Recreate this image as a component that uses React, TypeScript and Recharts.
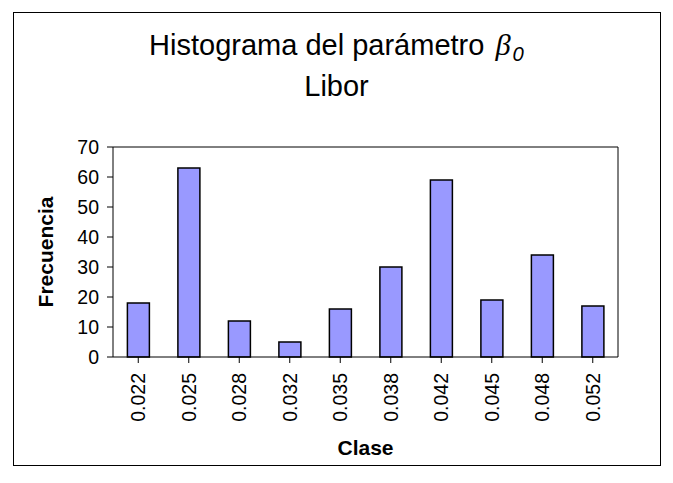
import React from 'react';
import { BarChart, Bar, XAxis, YAxis, ReferenceLine } from 'recharts';

const clases = ['0.022', '0.025', '0.028', '0.032', '0.035', '0.038', '0.042', '0.045', '0.048', '0.052'];
const frecuencias = [18, 63, 12, 5, 16, 30, 59, 19, 34, 17];
const yTicks = [0, 10, 20, 30, 40, 50, 60, 70];

const data = clases.map((c, i) => ({ clase: c, frecuencia: frecuencias[i] }));

const FONT = '"Liberation Sans", Arial, sans-serif';

const YTitle = (props: any) => {
  const vb = props.viewBox || { x: 0, y: 147, width: 113, height: 210 };
  const x = vb.x + 45;
  const y = vb.y + vb.height / 2;
  return (
    <text x={x} y={y} transform={`rotate(-90 ${x} ${y})`} textAnchor="middle" dominantBaseline="central"
      fontWeight="bold" fontSize={21} fontFamily={FONT} fill="#000">Frecuencia</text>
  );
};

const XTitle = (props: any) => {
  const vb = props.viewBox || { x: 113, y: 357, width: 505, height: 126 };
  const x = vb.x + vb.width / 2;
  const y = vb.y + 90;
  return (
    <text x={x} y={y} textAnchor="middle" dominantBaseline="central"
      fontWeight="bold" fontSize={21} fontFamily={FONT} fill="#000">Clase</text>
  );
};

const XTick = (props: any) => {
  const { x, y, payload } = props;
  return (
    <text x={x} y={y} transform={`rotate(-90 ${x} ${y})`} textAnchor="end" dominantBaseline="central"
      fontSize={19.5} fontFamily={FONT} fill="#000">{payload.value}</text>
  );
};

export default function App() {
  return (
    <div style={{ position: 'absolute', left: 0, top: 0, width: 673, height: 483, background: '#fff', fontFamily: FONT }}>
      <div style={{ position: 'absolute', left: 13, top: 12, width: 648, height: 454, border: '1px solid #000', boxSizing: 'border-box' }} />
      <div style={{ position: 'absolute', left: 0, top: 26, width: 673, textAlign: 'center', fontSize: 29, lineHeight: '38px', color: '#000' }}>
        <div>
          Histograma del parámetro{' '}
          <span style={{ fontFamily: '"Liberation Serif", serif', fontStyle: 'italic', fontSize: '1.05em', marginLeft: 3 }}>β</span>
          <span style={{ fontStyle: 'italic', fontSize: '0.7em', position: 'relative', top: '0.3em', marginLeft: 2 }}>0</span>
        </div>
        <div>Libor</div>
      </div>
      <div style={{ position: 'absolute', left: 0, top: 0 }}>
        <BarChart width={673} height={483} data={data} margin={{ top: 147, right: 55, bottom: 0, left: 0 }} barCategoryGap="28.5%">
          <XAxis dataKey="clase" height={126} interval={0} stroke="#000" tickSize={6} tickMargin={10}
            axisLine={{ stroke: '#000' }} tickLine={{ stroke: '#000' }}
            tick={<XTick />} label={<XTitle />} />
          <YAxis width={113} domain={[0, 70]} ticks={yTicks} interval={0} tickSize={6} tickMargin={8}
            axisLine={{ stroke: '#000' }} tickLine={{ stroke: '#000' }}
            tick={{ fontSize: 19.5, fontFamily: FONT, fill: '#000' }} label={<YTitle />} />
          <ReferenceLine y={70} stroke="#000" />
          <ReferenceLine x={clases[clases.length - 1]} position="end" stroke="#000" />
          <Bar dataKey="frecuencia" fill="#9999FF" stroke="#000" strokeWidth={1.5} isAnimationActive={false} />
        </BarChart>
      </div>
    </div>
  );
}
